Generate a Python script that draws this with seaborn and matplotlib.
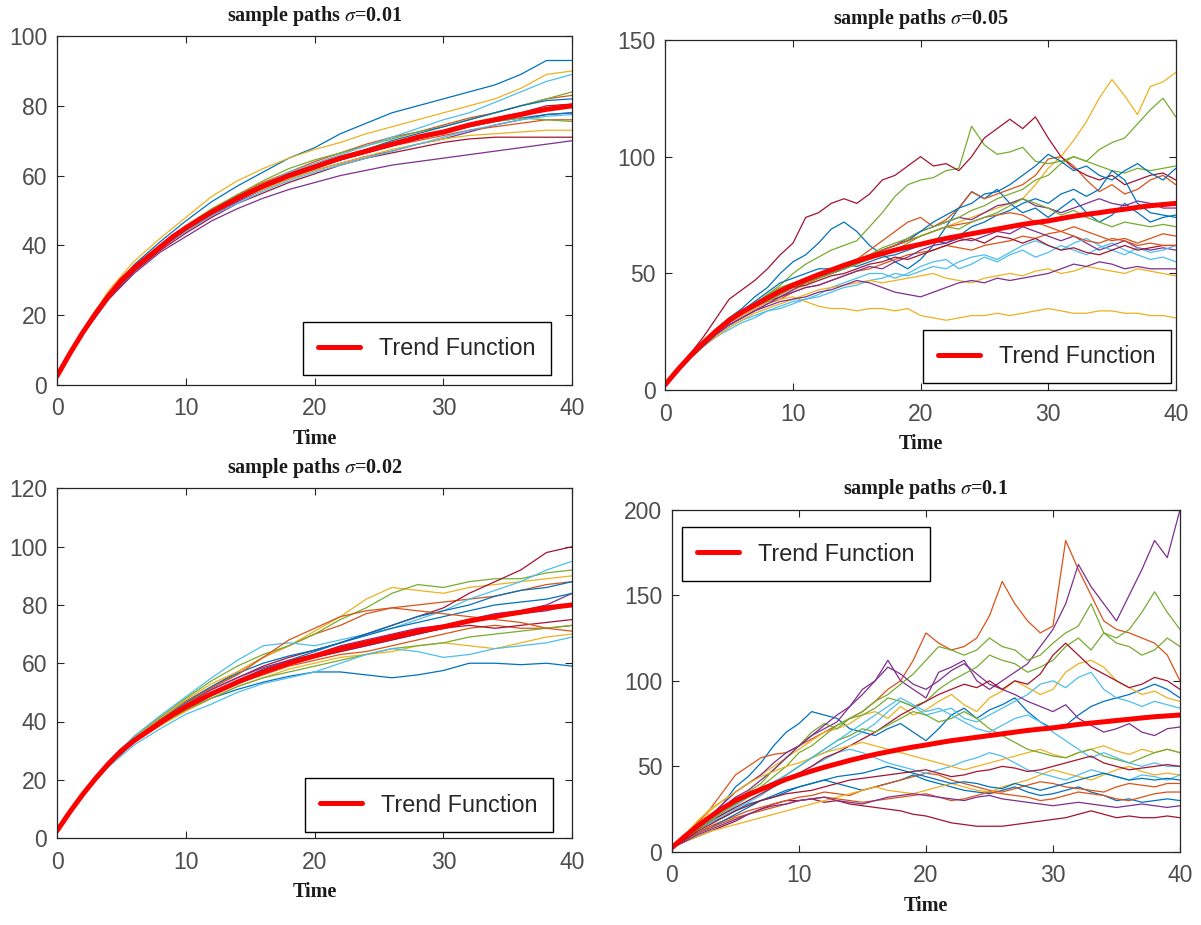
import matplotlib
matplotlib.use("Agg")
import matplotlib.pyplot as plt
import pandas as pd
import seaborn as sns

# ---------------- data ----------------
time_coarse = list(range(0, 41, 2))
time_fine = list(range(0, 41))

trend_time = list(range(0, 41))
trend_values = [2.5, 9, 15, 20.5, 25.5, 30, 33.5, 36.5, 39.5, 42.5,
                45, 47.3, 49.5, 51.5, 53.5, 55.3, 57, 58.5, 60, 61.3,
                62.5, 63.8, 65, 66, 67, 68, 69, 70, 71, 71.8,
                72.5, 73.5, 74.5, 75.3, 76, 76.8, 77.5, 78.3, 79, 79.5, 80]

paths_sigma_001 = [
    [2.5, 15, 26, 34.5, 41, 47, 52.5, 57, 61, 65, 68, 72, 75, 78, 80, 82, 84, 86, 89, 93, 93],
    [2.5, 15, 25.5, 34, 40, 45.5, 50, 54.5, 58, 61, 64, 66.5, 69, 71, 72.5, 74.5, 76.5, 78, 80, 82, 83],
    [2.5, 15.5, 27, 35.5, 42, 48, 54, 58.5, 62, 65, 67.5, 69.5, 72, 74, 76, 78, 80, 82, 85, 89, 90],
    [2.5, 14.5, 25, 33, 39, 44, 48.5, 52.5, 56, 59, 61.5, 63.5, 65.5, 67, 69, 70.5, 72.5, 74.5, 76, 77.5, 78],
    [2.5, 15, 25.5, 33.5, 40, 45.5, 50.5, 54.5, 58.5, 62, 64.5, 66.5, 68.5, 70.5, 72.5, 74, 76, 78, 80, 82, 84],
    [2.5, 15, 25.5, 33.5, 39.5, 45, 50, 54, 57.5, 61, 63.5, 66, 68.5, 71, 73.5, 76, 78, 81, 84, 87, 89],
    [2.5, 14.5, 24.5, 32.5, 38.5, 43.5, 48, 52, 55, 58, 60.5, 63, 65, 66.5, 68, 69.5, 70.5, 71, 71, 71, 71],
    [2.5, 15, 25.5, 33.5, 39.5, 45, 49.5, 53, 56.5, 59.5, 62, 64.5, 67, 69, 70.5, 72, 74, 75.5, 76.5, 77.5, 78],
    [2.5, 15, 25, 33, 39, 44.5, 49, 53, 56.5, 59.5, 62, 64.5, 66.5, 68.5, 70, 71.5, 73, 74, 75, 76, 76],
    [2.5, 15, 25, 33, 39, 44.5, 49, 53, 56, 59, 61.5, 63.5, 65.5, 67.5, 69, 70.5, 71.5, 72, 72.5, 73, 73],
    [2.5, 14.5, 24.5, 32, 38, 42.5, 47, 50.5, 53.5, 56, 58, 60, 61.5, 63, 64, 65, 66, 67, 68, 69, 70],
    [2.5, 15, 25.5, 34, 40, 45.5, 50, 54, 57.5, 60.5, 63, 65.5, 67.5, 69.5, 71, 72.5, 74, 75.5, 76.5, 76, 75.5],
    [2.5, 15, 25, 33, 39, 44, 48.5, 52, 55.5, 58.5, 61, 63, 65, 67, 69, 71, 73, 74.5, 76, 77, 77.5],
    [2.5, 15, 25, 33, 39, 44.5, 49, 53, 56.5, 59.5, 62, 64.5, 66.5, 68.5, 70.5, 72.5, 74.5, 76.5, 78, 80, 80.5],
    [2.5, 15, 25.5, 33.5, 39.5, 45, 49.5, 53.5, 57, 60, 62.5, 65, 67.5, 70, 72, 74, 76, 78, 80, 81.5, 82],
]

paths_sigma_002 = [
    [2.5, 15, 25.5, 33, 39, 44, 48, 51, 53.5, 55.5, 57, 57, 56, 55, 56, 57.5, 60, 60, 59.5, 60, 59],
    [2.5, 15.5, 26, 34.5, 41, 47, 52, 57, 62, 66, 70, 73, 77, 79, 80, 81, 82, 83, 85, 87, 88],
    [2.5, 15.5, 26, 34.5, 41, 47.5, 53, 57, 62, 66, 71, 76, 82, 86, 85, 84, 86, 87, 88, 89, 90],
    [2.5, 15, 25.5, 33.5, 39, 44.5, 49, 53, 56.5, 59.5, 62, 64, 66, 68, 70, 72, 74, 76, 77, 78, 80],
    [2.5, 15.5, 26, 35, 41.5, 48, 54, 59, 63, 66, 70, 75, 79, 84, 87, 86, 88, 89, 89, 91, 92],
    [2.5, 15.5, 26.5, 35, 42, 48.5, 55, 61, 66, 67, 66, 68, 70, 72, 75, 78, 82, 85, 88, 92, 95],
    [2.5, 15, 25.5, 34, 40, 46, 51, 55, 59, 62, 64.5, 67, 70, 73, 76, 79, 84, 88, 92, 98, 100],
    [2.5, 15, 25.5, 33.5, 40, 45.5, 50, 54, 58, 61, 64, 67, 70, 73, 76, 78, 80, 83, 85, 86, 88],
    [2.5, 15, 25, 33, 39, 44, 49, 53, 56, 59, 61, 63, 64, 66, 68, 70, 72, 73, 72, 72, 73],
    [2.5, 15, 25, 33, 38.5, 43.5, 48, 52, 55, 58, 60, 62, 63, 64, 66, 67, 66, 65, 67, 69, 70],
    [2.5, 15, 25.5, 34, 40.5, 46, 51, 55, 58.5, 61, 63, 66, 68, 70, 72, 73, 75, 77, 78, 80, 84],
    [2.5, 15, 25, 33, 39, 44, 48, 52, 55, 57, 59, 61, 63, 65, 66, 67, 69, 70, 71, 72, 73],
    [2.5, 14.5, 24.5, 32, 37.5, 42.5, 46, 50, 53, 55, 57, 60, 63, 65, 64, 62, 63, 65, 66, 67, 69],
    [2.5, 15, 25, 33, 39, 44.5, 49, 53, 56.5, 59.5, 62, 64, 66, 68, 70, 72, 73, 72, 73, 74, 75],
    [2.5, 15, 25.5, 34, 40.5, 46.5, 52, 56.5, 60, 62.5, 64.5, 67, 69.5, 72, 74, 76, 78, 80, 81, 82, 84],
    [2.5, 15, 25.5, 34, 40.5, 46, 51.5, 56, 62, 68, 72, 76, 78, 79, 78, 77, 76, 75, 74, 72, 71],
]

paths_sigma_005 = [
    [2.5, 9, 15, 21, 26, 31, 35, 40, 44, 50, 55, 58, 63, 69, 72, 68, 62, 58, 55, 52,
     56, 62, 70, 78, 85, 82, 86, 80, 76, 78, 74, 78, 82, 76, 72, 75, 80, 76, 72, 74, 75],
    [2.5, 9, 15, 20, 25, 29, 33, 36, 39, 41, 44, 46, 48, 50, 53, 56, 60, 64, 68, 72,
     74, 70, 73, 78, 85, 82, 84, 86, 88, 92, 99, 100, 96, 90, 85, 88, 84, 86, 90, 92, 88],
    [2.5, 9, 15, 20, 25, 29, 32, 35, 38, 40, 43, 45, 48, 50, 52, 55, 57, 60, 62, 64,
     66, 68, 70, 72, 74, 76, 78, 80, 82, 88, 95, 100, 107, 115, 125, 133, 126, 118, 130, 132, 136],
    [2.5, 9, 15, 20, 25, 29, 32, 35, 38, 40, 43, 46, 48, 50, 52, 55, 57, 60, 62, 65,
     68, 70, 72, 74, 73, 76, 79, 80, 82, 79, 78, 76, 78, 80, 82, 80, 79, 81, 80, 78, 78],
    [2.5, 9, 15, 21, 26, 31, 34, 37, 41, 45, 50, 54, 57, 60, 62, 64, 70, 76, 83, 88,
     90, 91, 94, 95, 113, 105, 101, 102, 104, 98, 97, 98, 100, 98, 96, 94, 93, 95, 94, 95, 96],
    [2.5, 8, 14, 19, 23, 27, 30, 32, 34, 35, 37, 39, 41, 44, 46, 48, 50, 50, 48, 50,
     53, 55, 56, 52, 54, 57, 55, 58, 60, 57, 59, 62, 60, 58, 61, 63, 60, 58, 56, 57, 55],
    [2.5, 9, 16, 23, 31, 39, 43, 47, 52, 58, 63, 74, 76, 80, 82, 80, 84, 90, 92, 96,
     100, 96, 97, 94, 100, 108, 112, 116, 112, 117, 108, 100, 95, 92, 90, 92, 88, 90, 92, 93, 90],
    [2.5, 9, 15, 20, 25, 30, 34, 38, 42, 46, 48, 50, 52, 52, 54, 53, 55, 57, 58, 60,
     62, 64, 63, 66, 70, 72, 75, 77, 80, 82, 80, 84, 86, 83, 86, 94, 90, 80, 76, 75, 74],
    [2.5, 9, 15, 20, 24, 28, 31, 34, 37, 39, 42, 44, 45, 47, 49, 51, 52, 54, 56, 58,
     59, 60, 62, 61, 60, 62, 63, 64, 66, 65, 67, 68, 70, 68, 66, 64, 65, 63, 65, 67, 66],
    [2.5, 9, 15, 20, 25, 29, 32, 35, 38, 39, 40, 38, 36, 35, 35, 34, 35, 35, 34, 35,
     32, 31, 30, 31, 32, 32, 33, 32, 33, 34, 35, 34, 33, 33, 34, 34, 33, 33, 32, 32, 31],
    [2.5, 8.5, 14, 19, 24, 28, 31, 34, 37, 40, 42, 44, 45, 47, 49, 51, 53, 52, 55, 57,
     60, 62, 63, 65, 64, 66, 68, 67, 70, 68, 66, 64, 66, 63, 60, 62, 64, 61, 60, 61, 60],
    [2.5, 9, 15, 20, 25, 29, 33, 37, 41, 44, 46, 47, 49, 51, 53, 56, 58, 61, 63, 65,
     68, 70, 72, 74, 77, 79, 82, 84, 86, 90, 92, 97, 100, 98, 103, 106, 108, 114, 120, 125, 117],
    [2.5, 8, 14, 19, 23, 26, 29, 31, 34, 36, 38, 39, 40, 42, 44, 45, 47, 48, 50, 49,
     51, 53, 52, 55, 57, 58, 56, 59, 62, 64, 62, 60, 63, 65, 62, 60, 58, 61, 59, 60, 62],
    [2.5, 9, 15, 20, 25, 29, 33, 36, 39, 42, 44, 45, 47, 49, 50, 52, 54, 55, 57, 56,
     58, 60, 62, 64, 65, 63, 66, 65, 63, 65, 62, 60, 61, 59, 58, 60, 62, 60, 61, 62, 62],
    [2.5, 9, 15, 20, 25, 29, 33, 36, 39, 42, 45, 47, 49, 50, 52, 54, 57, 60, 62, 64,
     68, 72, 75, 78, 80, 84, 85, 88, 92, 96, 101, 98, 94, 96, 92, 90, 94, 97, 93, 90, 95],
    [2.5, 9, 15, 20, 25, 29, 33, 36, 39, 42, 45, 47, 50, 52, 54, 56, 58, 60, 62, 64,
     66, 68, 70, 71, 72, 74, 75, 76, 75, 72, 70, 68, 66, 64, 63, 65, 64, 62, 63, 62, 62],
    [2.5, 8.5, 14, 19, 23, 27, 30, 33, 35, 37, 39, 41, 43, 44, 45, 46, 47, 46, 47, 48,
     49, 50, 48, 47, 46, 48, 49, 50, 49, 51, 52, 50, 51, 53, 52, 51, 50, 52, 51, 50, 49],
    [2.5, 8.5, 14, 19, 24, 28, 31, 34, 36, 38, 39, 40, 42, 43, 45, 47, 46, 44, 42, 41,
     40, 42, 44, 46, 47, 46, 48, 47, 48, 49, 50, 52, 54, 53, 55, 54, 52, 53, 52, 52, 52],
    [2.5, 9, 15, 20, 25, 29, 33, 36, 38, 41, 44, 46, 48, 50, 52, 54, 56, 58, 60, 63,
     66, 68, 70, 69, 72, 74, 76, 79, 82, 80, 78, 75, 77, 74, 72, 70, 72, 71, 70, 71, 70],
]

paths_sigma_01 = [
    [2.5, 9, 15, 21, 28, 38, 44, 52, 62, 70, 75, 82, 80, 78, 72, 70, 68, 72, 75, 70,
     65, 72, 80, 84, 78, 83, 86, 90, 82, 76, 72, 74, 80, 85, 88, 90, 92, 95, 98, 95, 90],
    [2.5, 10, 17, 25, 35, 45, 50, 55, 57, 58, 62, 66, 70, 74, 78, 82, 88, 95, 100, 112,
     128, 122, 118, 120, 125, 138, 158, 145, 135, 128, 132, 182, 165, 150, 135, 130, 128, 125, 122, 115, 100],
    [2.5, 10, 18, 25, 30, 35, 40, 45, 50, 55, 60, 65, 70, 72, 75, 80, 82, 78, 85, 80,
     83, 88, 92, 86, 82, 90, 94, 100, 96, 92, 95, 105, 110, 112, 108, 100, 96, 92, 94, 90, 88],
    [2.5, 9, 15, 21, 28, 35, 40, 45, 52, 58, 62, 68, 72, 76, 85, 95, 100, 112, 100, 95,
     90, 105, 108, 112, 100, 95, 100, 105, 110, 120, 130, 145, 168, 155, 145, 135, 150, 165, 182, 172, 200],
    [2.5, 9, 14, 19, 24, 30, 35, 40, 48, 55, 62, 70, 75, 72, 78, 82, 88, 92, 98, 104,
     112, 120, 118, 115, 118, 125, 120, 118, 112, 115, 122, 128, 132, 145, 128, 125, 130, 140, 152, 140, 130],
    [2.5, 8, 13, 18, 22, 27, 32, 36, 40, 45, 50, 55, 58, 62, 66, 70, 75, 82, 88, 85,
     80, 82, 84, 78, 76, 80, 84, 88, 92, 98, 100, 96, 102, 105, 95, 90, 88, 85, 88, 86, 84],
    [2.5, 6, 9, 12, 15, 18, 22, 25, 28, 30, 30, 31, 29, 30, 28, 27, 26, 25, 24, 22,
     21, 19, 17, 16, 15, 15, 15, 16, 17, 18, 19, 20, 22, 24, 22, 20, 21, 20, 20, 21, 20],
    [2.5, 8, 13, 17, 20, 24, 28, 30, 32, 35, 38, 40, 42, 40, 38, 36, 38, 40, 42, 45,
     42, 40, 38, 36, 35, 34, 36, 38, 35, 33, 34, 36, 38, 35, 33, 30, 31, 29, 30, 31, 30],
    [2.5, 7, 11, 15, 18, 21, 24, 26, 28, 30, 32, 33, 35, 34, 33, 36, 38, 40, 42, 44,
     46, 45, 42, 40, 38, 36, 35, 37, 39, 41, 40, 38, 37, 36, 35, 38, 40, 39, 38, 40, 40],
    [2.5, 6, 9, 12, 14, 16, 18, 20, 22, 24, 26, 28, 30, 32, 34, 36, 38, 36, 35, 34,
     36, 38, 40, 38, 36, 35, 38, 40, 42, 45, 48, 46, 44, 42, 45, 48, 50, 47, 45, 46, 45],
    [2.5, 9, 14, 20, 26, 32, 36, 42, 48, 55, 62, 68, 74, 80, 85, 92, 100, 108, 104, 98,
     95, 100, 106, 110, 104, 98, 95, 92, 88, 85, 82, 86, 78, 74, 70, 72, 75, 70, 68, 72, 73],
    [2.5, 9, 14, 19, 24, 28, 33, 38, 44, 50, 58, 62, 68, 74, 78, 80, 84, 90, 88, 85,
     88, 95, 100, 104, 108, 115, 112, 110, 105, 108, 112, 120, 125, 118, 128, 122, 120, 115, 118, 125, 120],
    [2.5, 8, 13, 17, 21, 25, 29, 33, 38, 42, 46, 50, 54, 58, 60, 58, 55, 52, 50, 48,
     46, 48, 50, 53, 55, 58, 56, 52, 48, 46, 44, 42, 45, 48, 46, 44, 42, 45, 44, 42, 45],
    [2.5, 8, 13, 18, 22, 26, 30, 34, 38, 42, 46, 50, 55, 58, 62, 66, 70, 75, 80, 84,
     88, 92, 95, 98, 96, 100, 95, 100, 98, 104, 115, 122, 115, 108, 104, 100, 96, 98, 102, 100, 95],
    [2.5, 7, 11, 14, 18, 22, 26, 30, 33, 36, 38, 40, 42, 44, 45, 46, 48, 50, 48, 46,
     44, 42, 40, 41, 40, 38, 37, 40, 38, 36, 38, 40, 42, 44, 46, 44, 42, 43, 42, 43, 42],
    [2.5, 7, 11, 14, 17, 20, 22, 24, 26, 28, 30, 31, 32, 31, 30, 29, 30, 31, 32, 33,
     34, 32, 30, 31, 33, 35, 34, 33, 32, 30, 31, 33, 35, 34, 33, 31, 30, 32, 34, 35, 35],
    [2.5, 9, 16, 24, 30, 35, 40, 44, 47, 50, 52, 55, 58, 60, 62, 64, 62, 60, 58, 56,
     54, 52, 50, 48, 50, 52, 54, 56, 58, 60, 57, 55, 58, 60, 62, 59, 57, 60, 58, 60, 58],
    [2.5, 6, 10, 13, 16, 19, 22, 25, 27, 28, 30, 31, 32, 30, 29, 28, 30, 32, 33, 34,
     33, 32, 31, 30, 32, 33, 31, 30, 29, 28, 27, 28, 29, 28, 27, 26, 27, 28, 27, 26, 27],
    [2.5, 8, 13, 18, 23, 28, 32, 36, 40, 45, 50, 55, 60, 65, 68, 72, 70, 74, 78, 82,
     80, 76, 78, 82, 78, 72, 68, 64, 60, 58, 56, 55, 58, 60, 56, 54, 52, 55, 58, 60, 58],
    [2.5, 8, 14, 19, 24, 29, 33, 37, 41, 45, 50, 55, 60, 65, 70, 75, 80, 85, 90, 86,
     82, 84, 80, 76, 72, 70, 74, 78, 80, 76, 70, 65, 60, 55, 58, 55, 52, 50, 52, 50, 50],
    [2.5, 7, 12, 16, 20, 24, 27, 30, 32, 34, 35, 36, 38, 40, 42, 43, 44, 45, 46, 47,
     48, 46, 44, 45, 47, 48, 50, 49, 47, 48, 50, 52, 54, 56, 52, 50, 48, 49, 50, 51, 50],
]

panel_titles = ["0.01", "0.05", "0.02", "0.1"]
panel_ymax = [100, 150, 120, 200]
panel_yticks = [[0, 20, 40, 60, 80, 100], [0, 50, 100, 150],
                [0, 20, 40, 60, 80, 100, 120], [0, 50, 100, 150, 200]]
x_ticks = [0, 10, 20, 30, 40]

# ---------------- style ----------------
sns.set_theme(style="white")
plt.rcParams["font.family"] = ["Liberation Sans", "DejaVu Sans"]
plt.rcParams["mathtext.fontset"] = "stix"

matlab_colors = ["#0072BD", "#D95319", "#EDB120", "#7E2F8E",
                 "#77AC30", "#4DBEEE", "#A2142F"]

fig = plt.figure(figsize=(12.01, 9.25), dpi=100)

axes_rects = [
    [0.0475, 0.584, 0.429, 0.377],
    [0.554, 0.578, 0.425, 0.379],
    [0.0475, 0.094, 0.429, 0.378],
    [0.5595, 0.079, 0.423, 0.370],
]
legend_locs = [
    ("lower right", (0.958, 0.028)),
    ("lower right", (0.99, 0.02)),
    ("lower right", (0.962, 0.018)),
    ("upper left", (0.02, 0.948)),
]

panels = [
    (time_coarse, paths_sigma_001),
    (time_fine, paths_sigma_005),
    (time_coarse, paths_sigma_002),
    (time_fine, paths_sigma_01),
]


def paths_frame(times, paths):
    rows = []
    for i, p in enumerate(paths):
        for t, v in zip(times, p):
            rows.append((i, t, v))
    return pd.DataFrame(rows, columns=["path", "t", "y"])


for k, (times, paths) in enumerate(panels):
    ax = fig.add_axes(axes_rects[k])
    df = paths_frame(times, paths)
    pal = [matlab_colors[i % len(matlab_colors)] for i in range(len(paths))]
    sns.lineplot(data=df, x="t", y="y", hue="path", palette=pal,
                 estimator=None, legend=False, linewidth=0.9, ax=ax)
    sns.lineplot(x=trend_time, y=trend_values, color="#FF0000",
                 linewidth=3.6, label="Trend Function", ax=ax)

    ax.set_xlim(0, 40)
    ax.set_ylim(0, panel_ymax[k])
    ax.set_xticks(x_ticks)
    ax.set_yticks(panel_yticks[k])
    ax.tick_params(direction="in", top=True, right=True, bottom=True, left=True,
                   length=5, width=0.8, color="#262626", labelcolor="#4d4d4d",
                   labelsize=16.5, pad=7)
    ax.tick_params(axis="x", pad=9)
    for s in ax.spines.values():
        s.set_color("#262626")
        s.set_linewidth(0.9)

    ax.set_title(r"sample paths $\sigma$=" + panel_titles[k],
                 fontfamily="Liberation Serif", fontweight="bold",
                 fontsize=14.5, pad=11, color="#1a1a1a")
    ax.set_xlabel("Time", fontfamily="Liberation Serif", fontweight="bold",
                  fontsize=14.5, labelpad=6, color="#1a1a1a")
    ax.set_ylabel("")

    loc, anchor = legend_locs[k]
    leg = ax.legend(loc=loc, bbox_to_anchor=anchor, frameon=True,
                    fancybox=False, edgecolor="black", framealpha=1,
                    fontsize=16.8, handlelength=1.8, handletextpad=0.8,
                    borderpad=0.65, borderaxespad=0)
    leg.get_frame().set_linewidth(1.0)
    for txt in leg.get_texts():
        txt.set_color("#262626")

fig.savefig("out.png", dpi=100)
